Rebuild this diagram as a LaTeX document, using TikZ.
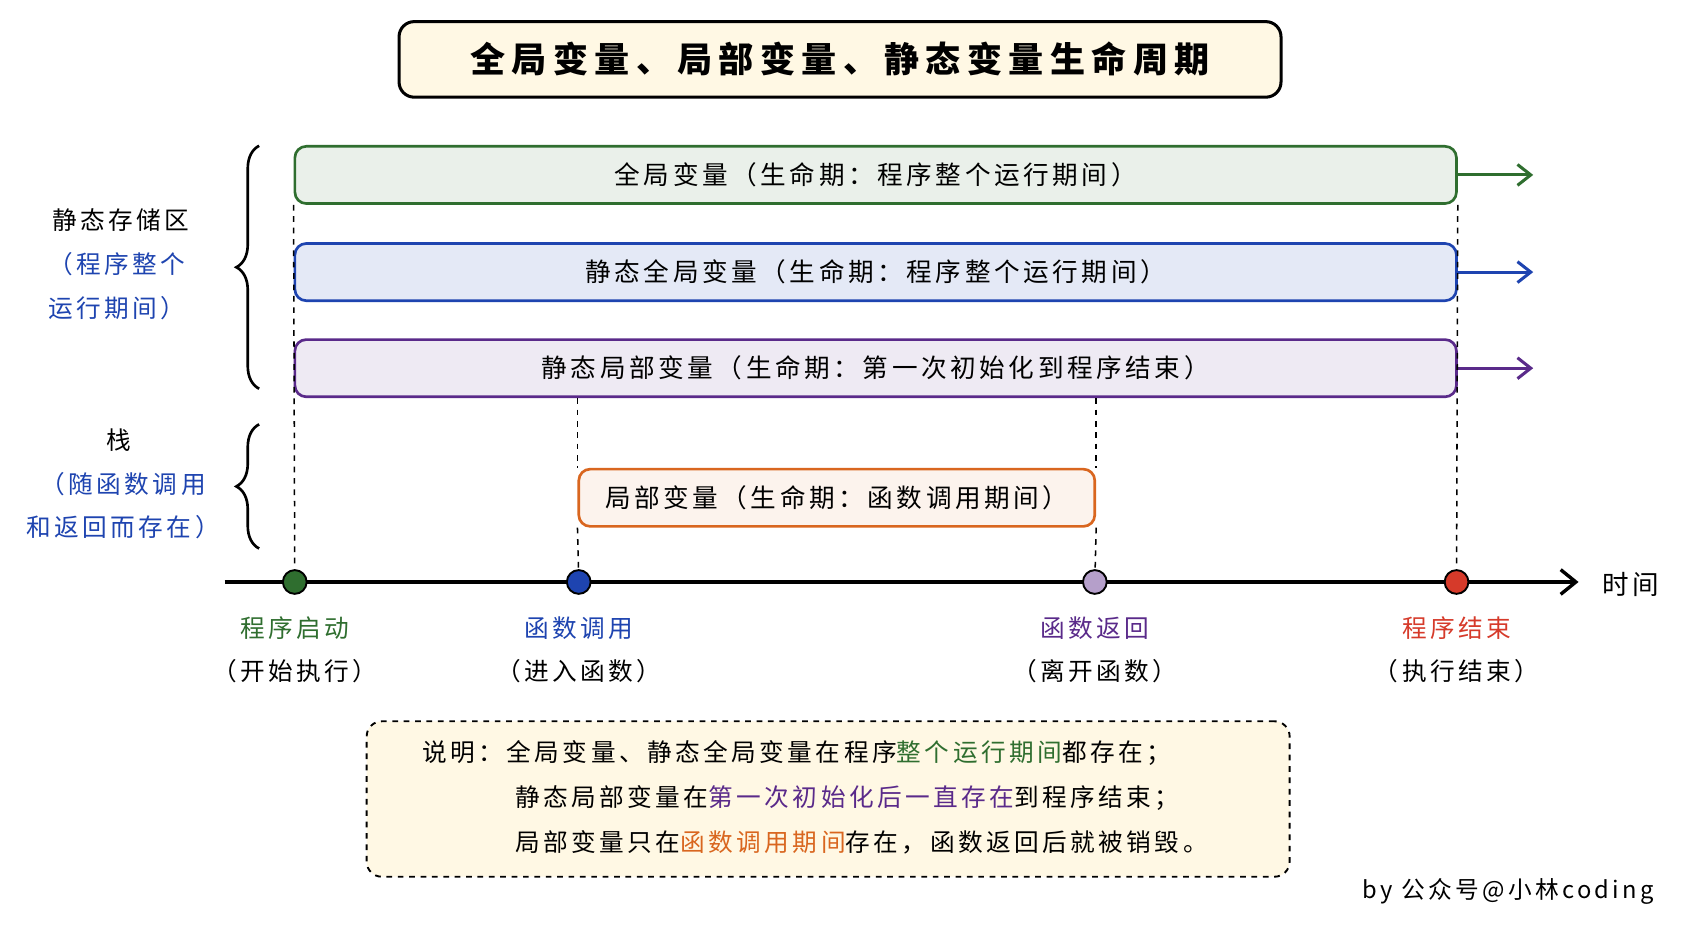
\documentclass[tikz,border=0pt]{standalone}
\usepackage{fontspec}
\usetikzlibrary{decorations.pathreplacing,arrows.meta}
\newfontfamily\cjk[LetterSpace=14]{Noto Sans CJK SC}
\newfontfamily\cjkt[LetterSpace=18]{Noto Sans CJK SC}
\definecolor{cgreen}{HTML}{2F6E2F}
\definecolor{cblue}{HTML}{1E44B0}
\definecolor{cpurple}{HTML}{5A2A8A}
\definecolor{corange}{HTML}{D9661F}
\definecolor{cred}{HTML}{D63A2A}
\definecolor{cream}{HTML}{FFF8E4}
\tikzset{
  bar/.style={draw=#1, line width=1.4pt, rounded corners=6pt, minimum height=1.06cm, inner sep=0pt},
  life/.style={-{Straight Barb[length=7pt,width=11pt,line width=1.6pt]}, line width=1.6pt},
  guide/.style={dashed, line width=0.8pt},
  dot/.style={circle, draw=black, line width=1pt, fill=#1, minimum size=0.44cm, inner sep=0pt},
  tlab/.style={font=\cjk\fontsize{13}{22.7}\selectfont},
}
\begin{document}
\begin{tikzpicture}[x=0.02cm, y=-0.02cm, font=\cjk\fontsize{13.5}{15}\selectfont]
\useasboundingbox (0,0) rectangle (1568,860);
\fill[white] (0,0) rectangle (1568,860);

% Title
\node[draw, line width=1.6pt, fill=cream, rounded corners=8pt, minimum width=16.34cm, minimum height=1.4cm,
  font=\cjkt\bfseries\fontsize{18.5}{20}\selectfont] (title) at (778,55) {全局变量、局部变量、静态变量生命周期};

% Lifetime bars
\node[bar=cgreen, fill=cgreen!10, minimum width=21.52cm] (glob) at (811,162) {全局变量（生命期：程序整个运行期间）};
\node[bar=cblue, fill=cblue!12, minimum width=21.52cm] (sglob) at (811,252) {静态全局变量（生命期：程序整个运行期间）};
\node[bar=cpurple, fill=cpurple!10, minimum width=21.52cm] (sloc) at (811,341) {静态局部变量（生命期：第一次初始化到程序结束）};
\node[bar=corange, fill=corange!8, minimum width=9.56cm] (loc) at (775,461) {局部变量（生命期：函数调用期间）};

\coordinate (ge) at (1420,162);
\coordinate (se) at (1420,252);
\coordinate (pe) at (1420,341);
\draw[life, cgreen] (glob.east) -- (ge);
\draw[life, cblue] (sglob.east) -- (se);
\draw[life, cpurple] (sloc.east) -- (pe);

% Time axis
\coordinate (t0) at (208,539);
\coordinate (t1) at (1462,539);
\draw[-{Straight Barb[length=8pt,width=13pt,line width=1.8pt]}, line width=1.8pt] (t0) -- (t1);
\node[anchor=west, font=\cjk\fontsize{14}{16}\selectfont] (time) at (1478,541) {时间};

\node[dot=cgreen] (start) at (273,539) {};
\node[dot=cblue] (call) at (536,539) {};
\node[dot=cpurple!45] (ret) at (1014,539) {};
\node[dot=cred] (stop) at (1349,539) {};

% Guides
\draw[guide] (glob.south west) -- (start);
\draw[guide] (glob.south east) -- (stop);
\draw[guide] (sloc.south -| loc.north west) -- (loc.north west);
\draw[guide] (loc.south west) -- (call);
\draw[guide] (sloc.south -| loc.north east) -- (loc.north east);
\draw[guide] (loc.south east) -- (ret);

% Event labels
\foreach \n/\x/\c/\a/\b in {s/273/cgreen/程序启动/开始执行, c/536/cblue/函数调用/进入函数,
    r/1014/cpurple/函数返回/离开函数, e/1349/cred/程序结束/执行结束} {
  \node[tlab, text=\c] (ev\n) at (\x,582) {\a};
  \node[tlab] (ex\n) at (\x,622) {（\b）};
}

% Storage regions
\draw[decorate, decoration={brace, amplitude=12pt}, line width=1.4pt] (240,360) -- (240,135);
\draw[decorate, decoration={brace, amplitude=12pt}, line width=1.4pt] (240,508) -- (240,393);
\node[tlab] (static) at (112,204) {静态存储区};
\node[tlab, align=left, text=cblue] (staticnote) at (108,265) {（程序整个\\运行期间）};
\node[tlab] (stack) at (110,408) {栈};
\node[tlab, align=center, text=cblue] (stacknote) at (114,468) {（随函数调用\\和返回而存在）};

% Note
\node[draw, dashed, line width=1pt, fill=cream, rounded corners=8pt, minimum width=17.1cm, minimum height=2.88cm] (note) at (767,740) {};
\node[tlab, anchor=west] (n1) at (385,697) {说明：全局变量、静态全局变量在程序\textcolor{cgreen}{整个运行期间}都存在；};
\node[tlab, anchor=west] (n2) at (471,739) {静态局部变量在\textcolor{cpurple}{第一次初始化后一直存在}到程序结束；};
\node[tlab, anchor=west] (n3) at (471,780) {局部变量只在\textcolor{corange}{函数调用期间}存在，函数返回后就被销毁。};

\node[anchor=east, font=\cjk\fontsize{12.5}{14}\selectfont] (by) at (1538,826) {by 公众号@小林coding};
\end{tikzpicture}
\end{document}
